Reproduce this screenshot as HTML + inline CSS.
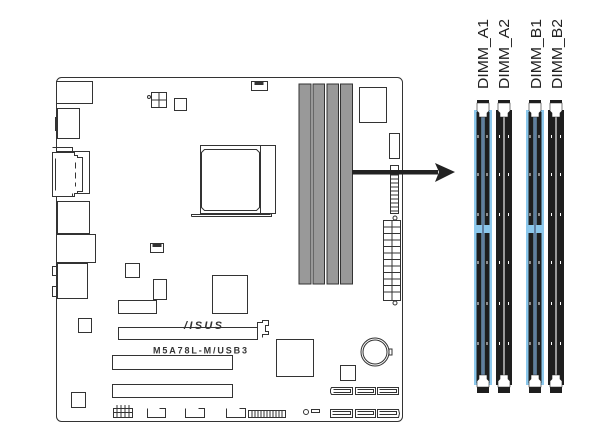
<!DOCTYPE html>
<html><head><meta charset="utf-8"><style>
html,body{margin:0;padding:0;background:#fff;width:612px;height:440px;overflow:hidden}
svg{display:block}
</style></head><body>
<svg width="612" height="440" viewBox="0 0 612 440" xmlns="http://www.w3.org/2000/svg">
<g fill="none" stroke="#333" stroke-width="1">
<rect x="56.5" y="77.5" width="346" height="344" rx="5" fill="#fff"/>
<rect x="56.5" y="81.5" width="36" height="22" fill="#fff"/>
<rect x="57.5" y="108.5" width="22" height="30" fill="#fff"/>
<rect x="55.5" y="117.5" width="2" height="13"/>
<rect x="57.5" y="151.5" width="32" height="42" fill="#fff"/>
<path d="M52.5 152.5h22v3h3v2h5v34h-5v2h-3v3h-22z" fill="#fff"/>
<path d="M52.5 147.5h20v5M52.5 196.5h20v-3M55.5 158.5v32"/>
<path d="M75.5 162.5v6M75.5 172.5v6M75.5 182.5v4"/>
<rect x="57.5" y="201.5" width="32" height="32" fill="#fff"/>
<rect x="56.5" y="234.5" width="39" height="28" fill="#fff"/>
<rect x="57.5" y="263.5" width="30" height="35" fill="#fff"/>
<rect x="52.5" y="266.5" width="5" height="9"/>
<rect x="52.5" y="286.5" width="5" height="10"/>
<rect x="251.5" y="81.5" width="16" height="9"/>
<rect x="255" y="81.5" width="8" height="3" fill="#333"/>
<rect x="151.5" y="92.5" width="15" height="15"/>
<path d="M159 92.5v15M151.5 100h15"/>
<circle cx="149" cy="97" r="1.5"/>
<rect x="174.5" y="98.5" width="12" height="12"/>
<rect x="200.5" y="145.5" width="75" height="68"/>
<path d="M204.5 149.5h52l3 3v55l-3 3h-52l-3-3v-55z"/>
<path d="M260.5 145.5v68"/>
<path d="M191.5 216.5h80v-3M191.5 216.5v-2h79"/>
<rect x="299" y="84" width="12" height="200" fill="#999" stroke="#333"/>
<rect x="313" y="84" width="11.5" height="200" fill="#999" stroke="#333"/>
<rect x="327" y="84" width="11.5" height="200" fill="#999" stroke="#333"/>
<rect x="340.5" y="84" width="12" height="200" fill="#999" stroke="#333"/>
<rect x="359.5" y="87.5" width="27" height="35"/>
<rect x="389.5" y="133.5" width="10" height="25"/>
<rect x="390.5" y="165.5" width="8" height="48"/>
<path d="M390.5 175h8M390.5 179h8M390.5 183h8M390.5 187h8M390.5 191h8M390.5 195h8M390.5 199h8M390.5 203h8M390.5 207h8M390.5 211h8"/>
<rect x="383.5" y="220.5" width="17" height="80"/>
<path d="M392 220.5v80"/>
<path d="M383.5 227h17M383.5 233.5h17M383.5 240h17M383.5 246.5h17M383.5 253h17M383.5 259.5h17M383.5 266h17M383.5 272.5h17M383.5 279h17M383.5 285.5h17M383.5 292h17"/>
<circle cx="395" cy="218" r="2"/><circle cx="395" cy="303" r="2"/>
<rect x="150.5" y="243.5" width="13" height="9"/>
<rect x="153" y="243.5" width="8" height="3" fill="#333"/>
<rect x="125.5" y="263.5" width="14" height="14"/>
<rect x="153.5" y="279.5" width="13" height="20"/>
<rect x="118.5" y="300.5" width="38" height="13"/>
<rect x="212.5" y="275.5" width="35" height="38"/>
<rect x="78.5" y="318.5" width="13" height="14"/>
<rect x="118.5" y="327.5" width="139" height="12"/>
<path d="M257.5 327.5v-5h5v-2h6v5h-3v6h3v3h-6v3"/>
<rect x="276.5" y="339.5" width="37" height="37"/>
<rect x="112.5" y="355.5" width="120" height="14"/>
<rect x="112.5" y="384.5" width="120" height="13"/>
<circle cx="375" cy="352" r="14"/><circle cx="375" cy="352" r="12"/>
<rect x="389" y="349" width="3" height="6"/>
<rect x="340.5" y="365.5" width="15" height="15"/>
<rect x="71.5" y="392.5" width="14" height="15"/>
<g>
<path d="M331.5 387.5h21v7h-21l-1-2v-3z"/><path d="M333.5 389.5h17v3h-17"/>
<path d="M355.5 387.5h20v7h-20z"/><path d="M357.5 389.5h16v3h-16"/>
<path d="M377.5 387.5h21v7h-21z"/><path d="M379.5 389.5h17v3h-17"/>
<path d="M330.5 409.5h22v8h-22z"/><path d="M332.5 411.5h18v3h-18"/>
<path d="M355.5 409.5h20v8h-20z"/><path d="M357.5 411.5h16v3h-16"/>
<path d="M377.5 409.5h21l1 4-1 4h-21z"/><path d="M379.5 411.5h17v3h-17"/>
</g>
<rect x="113.5" y="408.5" width="19" height="9"/>
<path d="M117 405v13M121 405v13M125 405v13M129 405v13M113.5 412.5h19"/>
<path d="M147.5 408.5v9h18v-9h-6"/>
<path d="M185.5 408.5v9h19v-9h-6"/>
<path d="M226.5 408.5v9h19v-9h-6"/>
<rect x="248.5" y="410.5" width="37" height="7"/>
<path d="M252 410.5v7M255 410.5v7M258 410.5v7M261 410.5v7M264 410.5v7M267 410.5v7M270 410.5v7M273 410.5v7M276 410.5v7M279 410.5v7M282 410.5v7"/>
<circle cx="306" cy="412" r="2.5"/>
<rect x="311.5" y="409.5" width="8" height="3"/>
</g>
<text x="184" y="329" font-family="Liberation Sans, sans-serif" font-size="11" font-weight="bold" font-style="italic" fill="#333" textLength="38">/ISUS</text>
<text x="153" y="353.5" font-family="Liberation Sans, sans-serif" font-size="9" font-weight="bold" fill="#333" textLength="94">M5A78L-M/USB3</text>
<rect x="352" y="170" width="86" height="4.5" fill="#222"/>
<path d="M455 172L435 163l4 9-4 10z" fill="#222"/>
<g font-family="Liberation Sans, sans-serif" font-size="15" fill="#222">
<text transform="translate(488,89) rotate(-90)" textLength="70" lengthAdjust="spacingAndGlyphs">DIMM_A1</text>
<text transform="translate(509,89) rotate(-90)" textLength="70" lengthAdjust="spacingAndGlyphs">DIMM_A2</text>
<text transform="translate(541,89) rotate(-90)" textLength="70" lengthAdjust="spacingAndGlyphs">DIMM_B1</text>
<text transform="translate(562,89) rotate(-90)" textLength="70" lengthAdjust="spacingAndGlyphs">DIMM_B2</text>
</g>
<defs>
<g id="blue">
<rect x="0" y="10" width="18" height="275" fill="#8cc8ec"/>
<rect x="2.5" y="12" width="5" height="113" fill="#1e1e1e"/>
<rect x="10.5" y="12" width="5" height="113" fill="#1e1e1e"/>
<rect x="2.5" y="133" width="5" height="150" fill="#1e1e1e"/>
<rect x="10.5" y="133" width="5" height="150" fill="#1e1e1e"/>
<rect x="8.5" y="12" width="1" height="271" fill="#335"/>
<rect x="3" y="0" width="12" height="3" fill="#1e1e1e"/>
<path d="M3 3h12v8l-2 2v4h-8v-4l-2-2z" fill="#fff" stroke="#222" stroke-width="0.6"/>
<rect x="3" y="287" width="12" height="6" fill="#1e1e1e"/>
<path d="M3 287h12v-6l-2-2v-4h-8v4l-2 2z" fill="#fff" stroke="#222" stroke-width="0.6"/>
</g>
<g id="black">
<rect x="0" y="10" width="16" height="275" fill="#1e1e1e"/>
<rect x="7" y="12" width="2" height="268" fill="#999"/>
<rect x="2" y="0" width="12" height="3" fill="#1e1e1e"/>
<path d="M2 3h12v8l-2 2v4h-8v-4l-2-2z" fill="#fff" stroke="#222" stroke-width="0.6"/>
<rect x="2" y="287" width="12" height="6" fill="#1e1e1e"/>
<path d="M2 287h12v-6l-2-2v-4h-8v4l-2 2z" fill="#fff" stroke="#222" stroke-width="0.6"/>
</g>
<g id="dots" fill="#fff">
<rect x="3.5" y="35" width="1" height="3"/><rect x="12.5" y="35" width="1" height="3"/>
<rect x="3.5" y="73" width="1" height="3"/><rect x="12.5" y="73" width="1" height="3"/>
<rect x="3.5" y="113" width="1" height="3"/><rect x="12.5" y="113" width="1" height="3"/>
<rect x="3.5" y="161" width="1" height="3"/><rect x="12.5" y="161" width="1" height="3"/>
<rect x="3.5" y="202" width="1" height="3"/><rect x="12.5" y="202" width="1" height="3"/>
<rect x="3.5" y="242" width="1" height="3"/><rect x="12.5" y="242" width="1" height="3"/>
</g>
</defs>
<g transform="translate(474,100)"><use href="#blue"/><use href="#dots"/></g>
<g transform="translate(496,100)"><use href="#black"/><use href="#dots" transform="translate(-0.5,0)"/></g>
<g transform="translate(526,100)"><use href="#blue"/><use href="#dots"/></g>
<g transform="translate(548,100)"><use href="#black"/><use href="#dots" transform="translate(-0.5,0)"/></g>
</svg>
</body></html>
